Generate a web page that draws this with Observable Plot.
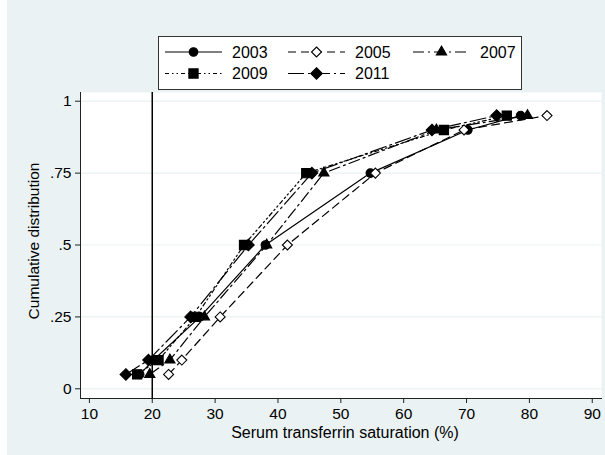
<!DOCTYPE html>
<html><head><meta charset="utf-8">
<script src="https://cdn.jsdelivr.net/npm/d3@7"></script>
<script src="https://cdn.jsdelivr.net/npm/@observablehq/plot@0.6"></script>
<style>
html,body{margin:0;padding:0;background:#fff;}
#chart{position:absolute;left:0;top:0;}
</style></head><body><div id="chart"></div>
<script>
// ---- data ----
const years = ["2003","2005","2007","2009","2011"];
const probs = [0.05, 0.1, 0.25, 0.5, 0.75, 0.9, 0.95];
const v2003 = [18.0, 20.2, 27.6, 38.0, 54.7, 70.2, 78.6];
const v2005 = [22.6, 24.7, 30.8, 41.5, 55.5, 69.6, 82.8];
const v2007 = [19.6, 22.8, 28.3, 38.2, 47.3, 65.2, 79.7];
const v2009 = [17.6, 21.0, 26.9, 34.6, 44.5, 66.4, 76.4];
const v2011 = [15.8, 19.4, 26.1, 35.3, 45.4, 64.5, 74.8];
const xTicks = [10, 20, 30, 40, 50, 60, 70, 80, 90];
const yTicks = [0, 0.25, 0.5, 0.75, 1];
const yTickLabels = ["0", ".25", ".5", ".75", "1"];
const refLine = [20];
const xTitle = "Serum transferrin saturation (%)";
const yTitle = "Cumulative distribution";

const seriesVals = {"2003": v2003, "2005": v2005, "2007": v2007, "2009": v2009, "2011": v2011};
const rows = years.flatMap(y => probs.map((p, i) => ({year: y, p, v: seriesVals[y][i]})));

const styles = {
  "2003": {dash: null, symbol: "circle", r: 4.3, fill: "black"},
  "2005": {dash: "8,5", symbol: "diamond2", r: 4.5, fill: "white"},
  "2007": {dash: "11,4,2,4", symbol: "triangle", r: 3.8, fill: "black"},
  "2009": {dash: "4,3,1.5,3,1.5,3", symbol: "square", r: 5.2, fill: "black"},
  "2011": {dash: "16,4,2,4", symbol: "diamond2", r: 5.2, fill: "black"}
};

const W = 605, H = 455;
const font = "'Liberation Sans', Arial, sans-serif";
const marks = [
  Plot.frame({fill: "white", stroke: null}),
  Plot.gridY(yTicks, {stroke: "#eaf2f3", strokeOpacity: 1, strokeWidth: 1.2}),
  Plot.ruleX(refLine, {stroke: "black", strokeWidth: 1.5})
];
for (const y of years) {
  const s = styles[y];
  const d = rows.filter(r => r.year === y);
  marks.push(Plot.line(d, {x: "v", y: "p", stroke: "black", strokeWidth: 1.2, strokeDasharray: s.dash}));
}
for (const y of years) {
  const s = styles[y];
  const d = rows.filter(r => r.year === y);
  marks.push(Plot.dot(d, {x: "v", y: "p", symbol: () => s.symbol, r: s.r, fill: s.fill, stroke: "black", strokeWidth: 1.1}));
}
marks.push(
  Plot.axisY(yTicks, {tickFormat: (d, i) => yTickLabels[i], tickSize: 5, tickPadding: 4, label: null, stroke: "#222", fontSize: 15.5}),
  Plot.axisX(xTicks, {tickSize: 5, tickPadding: 4, label: null, stroke: "#222", fontSize: 15.5}),
  Plot.frame({anchor: "left", stroke: "#222"}),
  Plot.frame({anchor: "bottom", stroke: "#222"})
);

const plot = Plot.plot({
  width: W, height: H,
  marginLeft: 80, marginRight: 4, marginTop: 92, marginBottom: 57,
  style: {background: "#eaf2f3", fontFamily: font, fontSize: "15px", color: "black"},
  x: {domain: [8.584, 91.47]},
  y: {domain: [-0.0337, 1.0303]},
  marks
});
document.getElementById("chart").appendChild(plot);

// white outer border at the left edge, as in the reference
const svg = d3.select(plot);
svg.insert("rect", ":first-child").attr("x", 0).attr("y", 0).attr("width", 7).attr("height", H).attr("fill", "white");

// titles and legend
svg.append("text").attr("x", 345).attr("y", 438).attr("text-anchor", "middle")
  .attr("font-family", font).attr("font-size", 16).attr("fill", "black").text(xTitle);
svg.append("text").attr("transform", "translate(39,241) rotate(-90)").attr("text-anchor", "middle")
  .attr("font-family", font).attr("font-size", 15.5).attr("fill", "black").text(yTitle);

const lg = svg.append("g");
lg.append("rect").attr("x", 158.5).attr("y", 36.5).attr("width", 363).attr("height", 53)
  .attr("fill", "white").attr("stroke", "#333").attr("stroke-width", 1);
const cols = [165, 288, 413];
const rowsY = [52, 73.5];
const symMap = {circle: d3.symbolCircle, diamond2: d3.symbolDiamond2, triangle: d3.symbolTriangle, square: d3.symbolSquare};
years.forEach((y, i) => {
  const s = styles[y];
  const cx = cols[i % 3], cy = rowsY[Math.floor(i / 3)];
  lg.append("line").attr("x1", cx).attr("x2", cx + 57).attr("y1", cy).attr("y2", cy)
    .attr("stroke", "black").attr("stroke-width", 1.2).attr("stroke-dasharray", s.dash);
  lg.append("path").attr("d", d3.symbol(symMap[s.symbol], s.r * s.r * Math.PI)())
    .attr("transform", `translate(${cx + 28.5},${cy})`)
    .attr("fill", s.fill).attr("stroke", "black").attr("stroke-width", 1.1);
  lg.append("text").attr("x", cx + 67).attr("y", cy + 5.8).attr("text-anchor", "start")
    .attr("font-family", font).attr("font-size", 16).attr("fill", "black").text(y);
});
</script></body></html>
